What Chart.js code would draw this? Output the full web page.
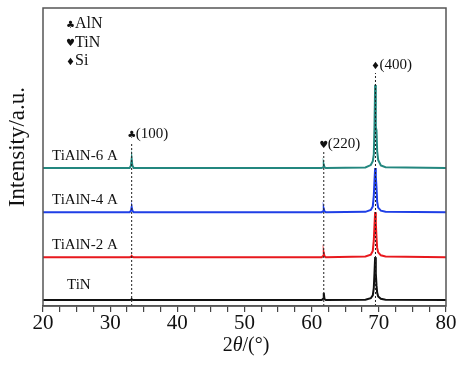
<!DOCTYPE html>
<html>
<head>
<meta charset="utf-8">
<script src="https://cdn.jsdelivr.net/npm/chart.js@4.4.1/dist/chart.umd.min.js"></script>
<style>
  html, body { margin: 0; padding: 0; background: #fff; }
  #wrap { width: 457px; height: 367px; }
</style>
</head>
<body>
<div id="wrap"><canvas id="xrd"></canvas></div>
<script>
// 2theta positions (deg) shared by all patterns
var angle = [20, 32.9, 33.1, 33.2, 33.3, 33.5, 61.5, 61.7, 61.8, 61.9, 62.1,
             68.0, 68.8, 69.1, 69.25, 69.35, 69.45, 69.55, 69.65, 69.75, 69.9, 70.3, 71.0, 80];

// stacked intensities (a.u., offsets already applied)
var tin     = [2.0, 2.0, 2.1, 2.3, 2.1, 2.0, 2.0, 2.4, 4.4, 2.4, 2.0,
               2.1, 2.6, 3.6, 6.0, 11.0, 16.4, 11.0, 7.0, 4.5, 3.2, 2.4, 2.1, 2.0];
var tialn2  = [16.4, 16.4, 16.5, 16.8, 16.5, 16.4, 16.4, 16.8, 17.8, 16.8, 16.4,
               16.6, 17.2, 18.5, 22.0, 27.0, 31.5, 28.0, 23.0, 19.5, 18.0, 17.0, 16.6, 16.4];
var tialn4  = [31.5, 31.5, 32.0, 33.2, 32.0, 31.5, 31.5, 31.8, 32.6, 31.8, 31.5,
               31.6, 32.2, 33.4, 37.0, 42.0, 46.3, 43.5, 40.0, 35.0, 33.0, 32.0, 31.6, 31.5];
var tialn6  = [46.3, 46.3, 47.2, 49.3, 47.2, 46.3, 46.3, 46.6, 47.4, 46.6, 46.3,
               46.5, 47.3, 48.6, 50.8, 60.0, 74.2, 60.0, 59.0, 52.0, 49.0, 47.2, 46.6, 46.3];

// reference peak positions and how high the dashed guide reaches
var peakPos = [33.2, 61.8, 69.5];
var peakTop = [55.0, 51.7, 78.2];
var peakSym = ["\u2663", "\u2665", "\u2666"];
var peakHkl = ["(100)", "(220)", "(400)"];

var sampleNames = ["TiN", "TiAlN-2 A", "TiAlN-4 A", "TiAlN-6 A"];
var sampleLevel = [2.0, 16.4, 31.5, 46.3];
var phaseSym = ["\u2663", "\u2665", "\u2666"];
var phaseName = ["AlN", "TiN", "Si"];

var xTicks = [20, 30, 40, 50, 60, 70, 80];

function pts(ys) {
  var out = [];
  for (var i = 0; i < angle.length; i++) out.push({x: angle[i], y: ys[i]});
  return out;
}

var datasets = [];
for (var k = 0; k < peakPos.length; k++) {
  datasets.push({
    data: [{x: peakPos[k], y: 0}, {x: peakPos[k], y: peakTop[k]}],
    borderColor: "#222", borderWidth: 1, borderDash: [2, 2], pointRadius: 0
  });
}
var series = [tin, tialn2, tialn4, tialn6];
var colors = ["#111111", "#e8191e", "#1f3fe6", "#23877f"];
for (var s = 0; s < series.length; s++) {
  datasets.push({
    data: pts(series[s]), borderColor: colors[s], borderWidth: 2,
    pointRadius: 0, tension: 0
  });
}

var serif = "'Liberation Serif', 'DejaVu Serif', serif";
var symFont = "'DejaVu Sans', sans-serif";

var decor = {
  id: "decor",
  afterDraw: function(chart) {
    var c = chart.ctx, a = chart.chartArea;
    var xs = chart.scales.x, ys = chart.scales.y;
    c.save();
    // frame
    c.strokeStyle = "#555"; c.lineWidth = 1.5;
    c.strokeRect(a.left, a.top, a.right - a.left, a.bottom - a.top);
    c.fillStyle = "#111";
    c.textBaseline = "middle";
    // phase legend
    for (var i = 0; i < phaseName.length; i++) {
      var y = 24 + i * 18.5;
      c.font = "10px " + symFont; c.textAlign = "left";
      c.fillText(phaseSym[i], 66, y + 1);
      c.font = "16px " + serif;
      c.fillText(phaseName[i], 75, y);
    }
    // peak labels
    for (var k = 0; k < peakPos.length; k++) {
      var px = xs.getPixelForValue(peakPos[k]);
      var py = ys.getPixelForValue(peakTop[k]) - 8;
      c.font = "10px " + symFont; c.textAlign = "center";
      c.fillText(peakSym[k], px, py + 1);
      c.font = "15px " + serif; c.textAlign = "left";
      c.fillText(peakHkl[k], px + 4, py);
    }
    // sample names
    c.font = "15px " + serif; c.textAlign = "left";
    for (var j = 0; j < sampleNames.length; j++) {
      var sy = ys.getPixelForValue(sampleLevel[j]) - 12;
      var sx = j === 0 ? 67 : 52;
      c.fillText(sampleNames[j], sx, sy - (j === 0 ? 3 : 0));
    }
    // y title
    c.save();
    c.translate(18, 147);
    c.rotate(-Math.PI / 2);
    c.font = "23px " + serif; c.textAlign = "center";
    c.fillText("Intensity/a.u.", 0, 0);
    c.restore();
    // x title with italic theta
    var parts = [["2", "normal"], ["\u03b8", "italic"], ["/(\u00b0)", "normal"]];
    var w = 0;
    for (var p = 0; p < parts.length; p++) {
      c.font = parts[p][1] + " 20px " + serif;
      w += c.measureText(parts[p][0]).width;
    }
    var tx = 246 - w / 2;
    c.textAlign = "left";
    for (var q = 0; q < parts.length; q++) {
      c.font = parts[q][1] + " 20px " + serif;
      c.fillText(parts[q][0], tx, 346);
      tx += c.measureText(parts[q][0]).width;
    }
    c.restore();
  }
};

new Chart(document.getElementById("xrd"), {
  type: "line",
  data: {datasets: datasets},
  options: {
    responsive: true, maintainAspectRatio: false, animation: false,
    layout: {padding: {left: 43, right: 11, top: 8, bottom: 0}},
    plugins: {legend: {display: false}, tooltip: {enabled: false}},
    scales: {
      x: {
        type: "linear", min: 20, max: 80,
        afterFit: function(sc) { sc.height = 61; },
        afterBuildTicks: function(sc) {
          var t = [];
          for (var v = 20; v <= 80; v += 2.5) t.push({value: v});
          sc.ticks = t;
        },
        grid: {drawOnChartArea: false, tickLength: 6, color: "#444", lineWidth: 1.2},
        border: {display: true, color: "#555", width: 1.5},
        ticks: {
          autoSkip: false, maxRotation: 0, padding: -1, color: "#111",
          font: {family: serif, size: 21},
          callback: function(v) { return xTicks.indexOf(v) >= 0 ? String(v) : ""; }
        }
      },
      y: {display: false, min: 0, max: 100}
    }
  },
  plugins: [decor]
});
</script>
</body>
</html>
